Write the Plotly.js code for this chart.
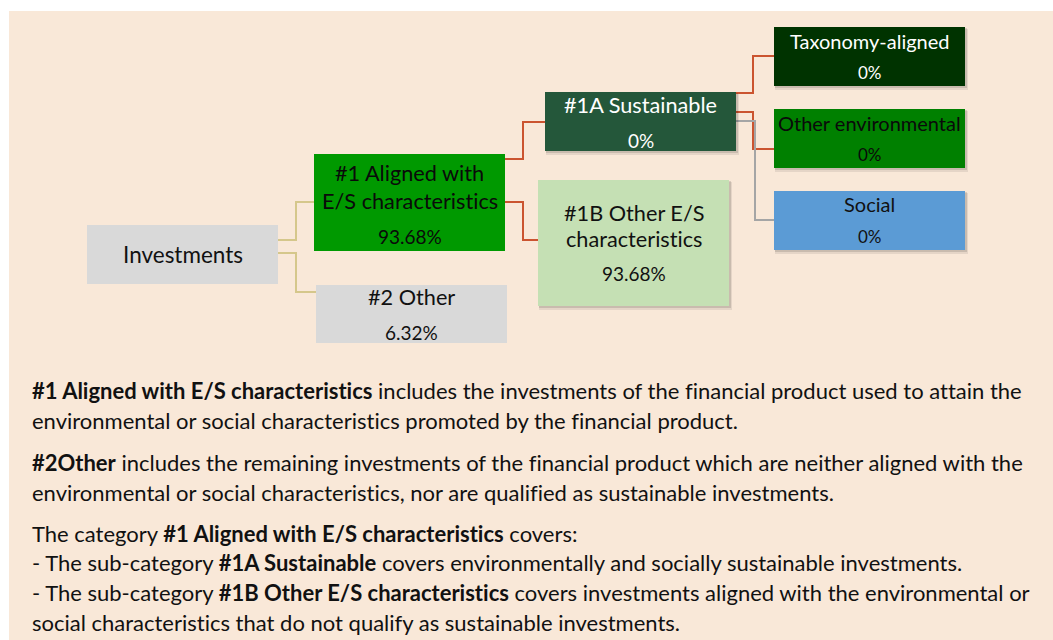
<!DOCTYPE html>
<html>
<head>
<meta charset="utf-8">
<script src="https://cdn.plot.ly/plotly-3.0.1.min.js"></script>
<style>
html,body{margin:0;padding:0;background:#ffffff;}
#chart{width:1053px;height:640px;}
svg text{font-variant-ligatures:none;font-feature-settings:"liga" 0, "clig" 0;}
</style>
</head>
<body>
<div id="chart"></div>
<script>
// ---- data ----
var nodeIds = ["inv", "n1", "n2", "n1a", "n1b", "tax", "oenv", "soc"];
var nodeTitles = [
  "Investments",
  "#1 Aligned with<br>E/S characteristics",
  "#2 Other",
  "#1A Sustainable",
  "#1B Other E/S<br>characteristics",
  "Taxonomy-aligned",
  "Other environmental",
  "Social"
];
var nodeValues = [null, 93.68, 6.32, 0, 93.68, 0, 0, 0];
var links = [["inv","n1"],["inv","n2"],["n1","n1a"],["n1","n1b"],["n1a","tax"],["n1a","oenv"],["n1a","soc"]];
var bodyLines = [
  "<b>#1 Aligned with E/S characteristics</b> includes the investments of the financial product used to attain the",
  "environmental or social characteristics promoted by the financial product.",
  "<b>#2Other</b> includes the remaining investments of the financial product which are neither aligned with the",
  "environmental or social characteristics, nor are qualified as sustainable investments.",
  "The category <b>#1 Aligned with E/S characteristics</b> covers:",
  "- The sub-category <b>#1A Sustainable</b> covers environmentally and socially sustainable investments.",
  "- The sub-category <b>#1B Other E/S characteristics</b> covers investments aligned with the environmental or",
  "social characteristics that do not qualify as sustainable investments."
];

// ---- layout / style ----
var FONT = "Lato, 'Open Sans', sans-serif";
var boxGeom = {
  inv:  {x0:87,  x1:278, y0:225, y1:284, fill:"#D9D9D9", txt:"#111111", shadow:false, ty:[254], vy:null, ts:22.5, vs:19},
  n1:   {x0:314, x1:505, y0:154, y1:251, fill:"#009900", txt:"#0a0a0a", shadow:false, ty:[173,201], vy:236, ts:21.7, vs:19},
  n2:   {x0:316, x1:507, y0:285, y1:343, fill:"#D9D9D9", txt:"#111111", shadow:false, ty:[297], vy:332, ts:21.7, vs:19},
  n1a:  {x0:545, x1:736, y0:92,  y1:151, fill:"#24573A", txt:"#ffffff", shadow:true, ty:[105], vy:140, ts:21.7, vs:19},
  n1b:  {x0:538, x1:729, y0:180, y1:306, fill:"#C5E0B4", txt:"#111111", shadow:true, ty:[213,239], vy:273, ts:21.7, vs:19},
  tax:  {x0:774, x1:965, y0:27,  y1:86,  fill:"#003300", txt:"#ffffff", shadow:true, ty:[41], vy:72, ts:20, vs:17},
  oenv: {x0:774, x1:965, y0:109, y1:168, fill:"#008000", txt:"#0a0a0a", shadow:true, ty:[123], vy:154, ts:20, vs:17},
  soc:  {x0:774, x1:965, y0:191, y1:250, fill:"#5B9BD5", txt:"#111111", shadow:true, ty:[204], vy:236, ts:20, vs:17}
};
// connector routes: [start y on parent, elbow x, end y on child]
var linkGeom = {
  "inv-n1":  {sy:240, ex:296, ey:202, color:"#D5C78B"},
  "inv-n2":  {sy:253, ex:296, ey:292, color:"#D5C78B"},
  "n1-n1a":  {sy:159, ex:523, ey:122, color:"#CB5430"},
  "n1-n1b":  {sy:202, ex:523, ey:240, color:"#CB5430"},
  "n1a-tax": {sy:93,  ex:753, ey:56,  color:"#CB5430"},
  "n1a-oenv":{sy:112, ex:753, ey:149, color:"#CB5430"},
  "n1a-soc": {sy:121, ex:755, ey:220, color:"#A5A5A5"}
};
var bodyY = [390, 420, 462, 492, 533, 562, 592, 622];

var shapes = [];
var annotations = [];
// background panel
shapes.push({type:"rect", xref:"x", yref:"y", x0:9, x1:1053, y0:11, y1:640, fillcolor:"#F9E8D8", line:{width:0}, layer:"below"});

// connectors
links.forEach(function(l){
  var g = linkGeom[l[0]+"-"+l[1]];
  var p = boxGeom[l[0]], c = boxGeom[l[1]];
  shapes.push({type:"path", xref:"x", yref:"y",
    path:"M"+p.x1+","+g.sy+" L"+g.ex+","+g.sy+" L"+g.ex+","+g.ey+" L"+c.x0+","+g.ey,
    line:{color:g.color, width:2}});
});

function fmt(v){ return String(v) + "%"; }

nodeIds.forEach(function(id, i){
  var b = boxGeom[id];
  if (b.shadow){
    shapes.push({type:"rect", xref:"x", yref:"y", x0:b.x0+1, x1:b.x1+3, y0:b.y0+2, y1:b.y1+4, fillcolor:"rgba(0,0,0,0.08)", line:{width:0}});
    shapes.push({type:"rect", xref:"x", yref:"y", x0:b.x0+1, x1:b.x1+2, y0:b.y0+1, y1:b.y1+2, fillcolor:"rgba(0,0,0,0.12)", line:{width:0}});
  }
  shapes.push({type:"rect", xref:"x", yref:"y", x0:b.x0, x1:b.x1, y0:b.y0, y1:b.y1, fillcolor:b.fill, line:{width:0}});
  var lines = nodeTitles[i].split("<br>");
  lines.forEach(function(t, k){
    annotations.push({xref:"x", yref:"y", x:(b.x0+b.x1)/2, y:b.ty[k], text:t, showarrow:false,
      xanchor:"center", yanchor:"middle", font:{family:FONT, size:b.ts, color:b.txt}});
  });
  if (nodeValues[i] !== null){
    annotations.push({xref:"x", yref:"y", x:(b.x0+b.x1)/2, y:b.vy, text:fmt(nodeValues[i]), showarrow:false,
      xanchor:"center", yanchor:"middle", font:{family:FONT, size:b.vs, color:b.txt}});
  }
});

bodyLines.forEach(function(t, k){
  annotations.push({xref:"x", yref:"y", x:30, y:bodyY[k], text:t, showarrow:false,
    xanchor:"left", yanchor:"middle", font:{family:FONT, size:22, color:"#111111"}});
});

var layout = {
  width:1053, height:640,
  margin:{l:0, r:0, t:0, b:0, pad:0},
  paper_bgcolor:"#ffffff", plot_bgcolor:"rgba(0,0,0,0)",
  xaxis:{range:[0,1053], visible:false, fixedrange:true},
  yaxis:{range:[640,0], visible:false, fixedrange:true},
  showlegend:false,
  shapes:shapes,
  annotations:annotations
};
Plotly.newPlot("chart", [{x:[], y:[], type:"scatter", mode:"markers", hoverinfo:"skip"}], layout, {displayModeBar:false, staticPlot:true});
</script>
</body>
</html>
